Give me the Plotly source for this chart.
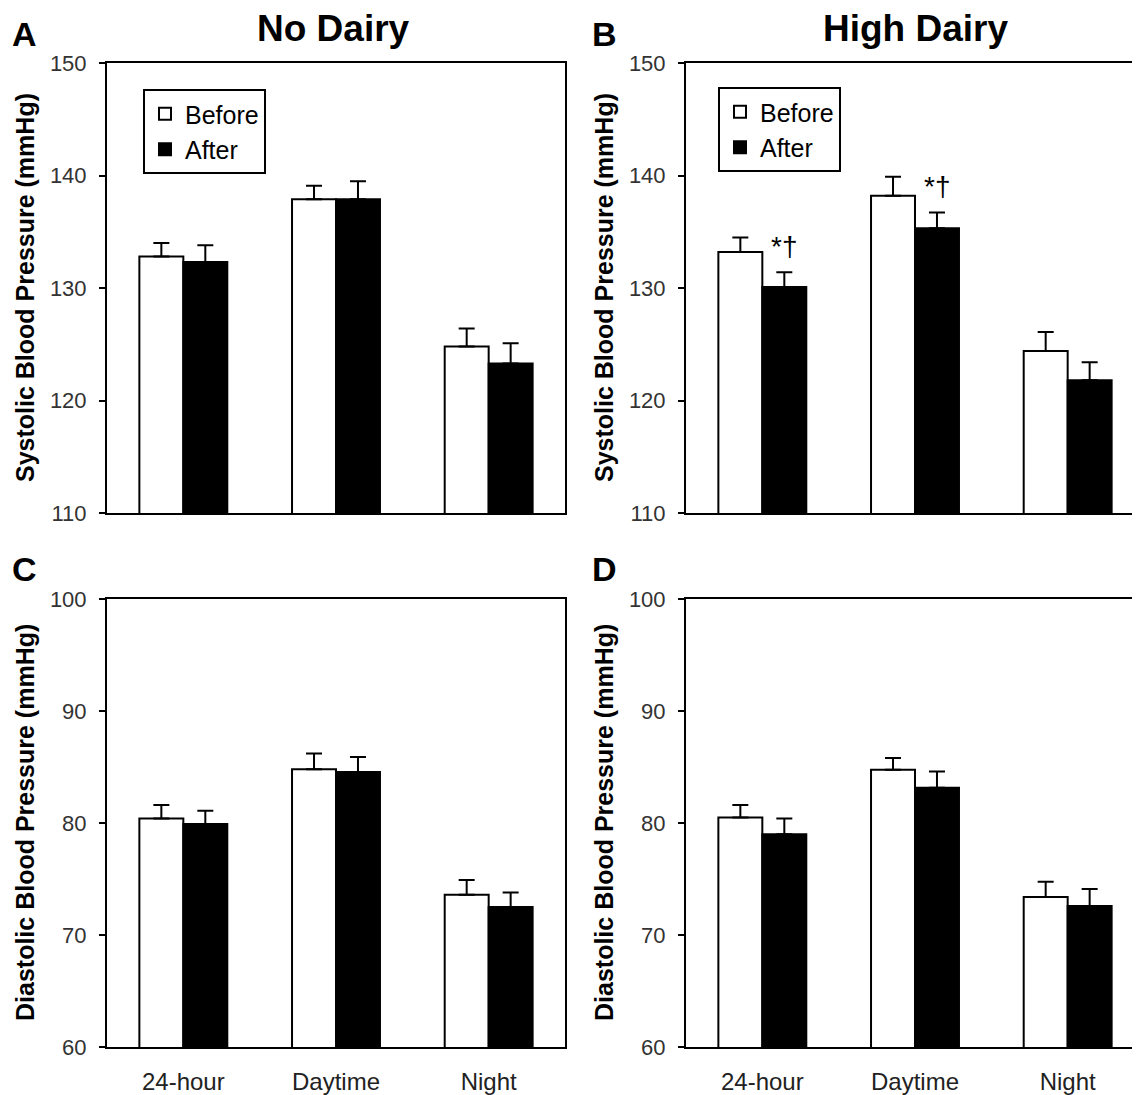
import plotly.graph_objects as go

# ---------------- data ----------------
categories = ["24-hour", "Daytime", "Night"]

sbp_no_before = [132.8, 137.9, 124.8]
sbp_no_before_err = [1.2, 1.2, 1.6]
sbp_no_after = [132.3, 137.9, 123.3]
sbp_no_after_err = [1.5, 1.6, 1.8]

sbp_high_before = [133.2, 138.2, 124.4]
sbp_high_before_err = [1.3, 1.7, 1.7]
sbp_high_after = [130.1, 135.3, 121.8]
sbp_high_after_err = [1.3, 1.4, 1.6]

dbp_no_before = [80.4, 84.8, 73.6]
dbp_no_before_err = [1.2, 1.4, 1.3]
dbp_no_after = [79.9, 84.55, 72.5]
dbp_no_after_err = [1.2, 1.35, 1.3]

dbp_high_before = [80.5, 84.75, 73.4]
dbp_high_before_err = [1.1, 1.05, 1.35]
dbp_high_after = [79.0, 83.15, 72.6]
dbp_high_after_err = [1.4, 1.45, 1.5]

sbp_ticks = [110, 120, 130, 140, 150]
dbp_ticks = [60, 70, 80, 90, 100]

sig_label = "*†"
sig_categories = [0, 1]  # 24-hour, Daytime in High Dairy SBP

# ---------------- figure ----------------
PAGE_W, PAGE_H = 1140, 1095
OFF = 8  # page body margin
W, H = PAGE_W - OFF, PAGE_H - OFF
FONT = "Liberation Sans, Arial, Helvetica, sans-serif"

def px_x(p):
    return (p - OFF) / W

def px_y(p):
    return 1 - (p - OFF) / H

fig = go.Figure()

panels = [
    ("x", "y", sbp_no_before, sbp_no_before_err, sbp_no_after, sbp_no_after_err, "legend", True),
    ("x2", "y2", sbp_high_before, sbp_high_before_err, sbp_high_after, sbp_high_after_err, "legend2", True),
    ("x3", "y3", dbp_no_before, dbp_no_before_err, dbp_no_after, dbp_no_after_err, "legend", False),
    ("x4", "y4", dbp_high_before, dbp_high_before_err, dbp_high_after, dbp_high_after_err, "legend2", False),
]

for xa, ya, b, be, a, ae, leg, sl in panels:
    fig.add_trace(go.Bar(
        x=categories, y=b, name="Before", xaxis=xa, yaxis=ya,
        marker=dict(color="white", line=dict(color="black", width=2)),
        error_y=dict(type="data", array=be, arrayminus=[0] * len(be), symmetric=False,
                     color="black", thickness=2, width=8),
        legend=leg, showlegend=sl, legendgroup=leg + "b",
    ))
    fig.add_trace(go.Bar(
        x=categories, y=a, name="After", xaxis=xa, yaxis=ya,
        marker=dict(color="black", line=dict(color="black", width=2)),
        error_y=dict(type="data", array=ae, arrayminus=[0] * len(ae), symmetric=False,
                     color="black", thickness=2, width=8),
        legend=leg, showlegend=sl, legendgroup=leg + "a",
    ))

left_dom = [px_x(107), px_x(565)]
right_dom = [px_x(686), 1.0]
top_dom = [px_y(513), px_y(63)]
bot_dom = [px_y(1047), px_y(599)]

cat_w = (565 - 107) / 3.0
right_range = [-0.5, -0.5 + (PAGE_W - 686) / cat_w]

def xaxis(dom, rng, labels, anchor):
    return dict(domain=dom, type="category", categoryorder="array", categoryarray=categories,
                range=rng, showline=True, linecolor="black", linewidth=2, mirror=True,
                ticks="", showgrid=False, zeroline=False, showticklabels=labels,
                automargin=False, anchor=anchor, fixedrange=True,
                tickfont=dict(family=FONT, size=24, color="#222"), ticklabelstandoff=12)

def yaxis(dom, rng, tv, mirror, anchor):
    return dict(domain=dom, range=rng, tickvals=tv, showline=True, linecolor="black", linewidth=2,
                mirror=mirror, ticks="outside", ticklen=6, tickwidth=2, tickcolor="black",
                showgrid=False, zeroline=False, anchor=anchor, automargin=False, fixedrange=True,
                ticklabelstandoff=8,
                tickfont=dict(family=FONT, size=22, color="#333"))

legend_common = dict(xanchor="left", yanchor="top", bordercolor="black", borderwidth=2,
                     bgcolor="white", font=dict(family=FONT, size=25, color="black"),
                     tracegroupgap=2, traceorder="normal", itemwidth=30)

fig.update_layout(
    width=W, height=H,
    margin=dict(l=0, r=0, t=0, b=0, autoexpand=False),
    paper_bgcolor="white", plot_bgcolor="white",
    barmode="group", bargap=0.424, bargroupgap=0,
    font=dict(family=FONT, color="black"),
    xaxis=xaxis(left_dom, [-0.5, 2.5], False, "y"),
    xaxis2=xaxis(right_dom, right_range, False, "y2"),
    xaxis3=xaxis(left_dom, [-0.5, 2.5], True, "y3"),
    xaxis4=xaxis(right_dom, right_range, True, "y4"),
    yaxis=yaxis(top_dom, [110, 150], sbp_ticks, True, "x"),
    yaxis2=yaxis(top_dom, [110, 150], sbp_ticks, False, "x2"),
    yaxis3=yaxis(bot_dom, [60, 100], dbp_ticks, True, "x3"),
    yaxis4=yaxis(bot_dom, [60, 100], dbp_ticks, False, "x4"),
    legend=dict(x=px_x(143), y=px_y(89), **legend_common),
    legend2=dict(x=px_x(718), y=px_y(87), **legend_common),
)

annotations = []
# panel letters
for txt, x, y in [("A", 24, 34), ("B", 604, 34), ("C", 24, 569), ("D", 604, 569)]:
    annotations.append(dict(text=txt, x=px_x(x), y=px_y(y), xref="paper", yref="paper",
                            showarrow=False, xanchor="center", yanchor="middle",
                            font=dict(family=FONT, size=34, color="black", weight="bold")))
# column titles
for txt, x in [("No Dairy", 333), ("High Dairy", 915)]:
    annotations.append(dict(text=txt, x=px_x(x), y=px_y(29), xref="paper", yref="paper",
                            showarrow=False, xanchor="center", yanchor="middle",
                            font=dict(family=FONT, size=37, color="black", weight="bold")))
# y-axis titles
for txt, x, y in [("Systolic Blood Pressure (mmHg)", 25, 288),
                  ("Systolic Blood Pressure (mmHg)", 604, 288),
                  ("Diastolic Blood Pressure (mmHg)", 25, 823),
                  ("Diastolic Blood Pressure (mmHg)", 604, 823)]:
    annotations.append(dict(text=txt, x=px_x(x), y=px_y(y), xref="paper", yref="paper",
                            showarrow=False, textangle=-90, xanchor="center", yanchor="middle",
                            font=dict(family=FONT, size=25, color="black", weight="bold")))
# significance markers
offset = (1 - 0.424) / 4  # center of the "After" bar relative to category center
for i in sig_categories:
    annotations.append(dict(text=sig_label, x=i + offset, y=sbp_high_after[i] + sbp_high_after_err[i] + 2.3,
                            xref="x2", yref="y2", showarrow=False, xanchor="center", yanchor="middle",
                            font=dict(family=FONT, size=28, color="black")))

fig.update_layout(annotations=annotations)

fig.write_html("out.html", config=dict(displayModeBar=False))
